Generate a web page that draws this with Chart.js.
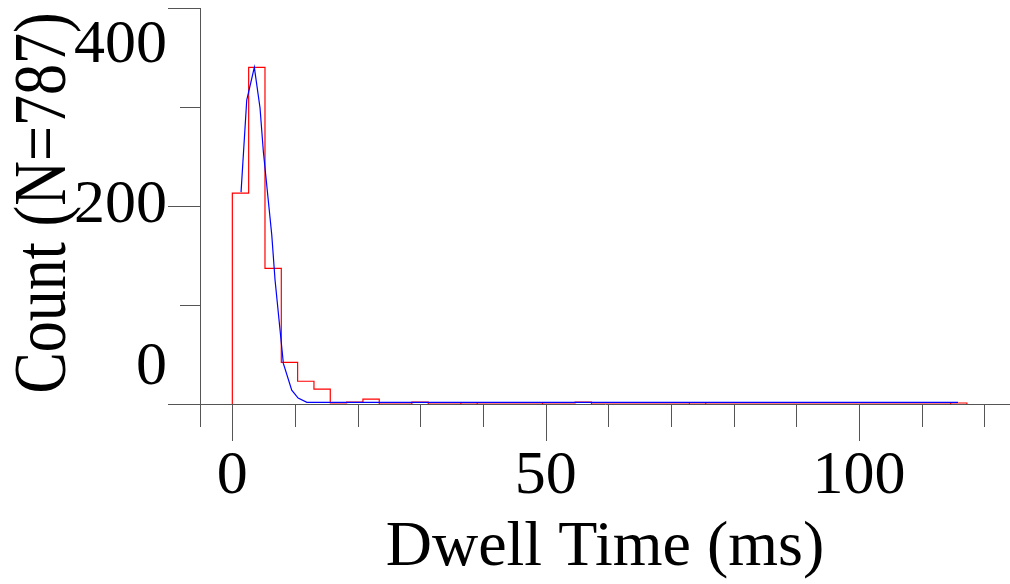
<!DOCTYPE html>
<html>
<head>
<meta charset="utf-8">
<script src="https://cdn.jsdelivr.net/npm/chart.js@4"></script>
<style>
  body { margin: 0; background: #fff; }
  #wrap { width: 1010px; height: 584px; }
</style>
</head>
<body>
<div id="wrap"><canvas id="dwellCanvas"></canvas></div>
<script>
// histogram of dwell times, 45 bins
const binWidth = 2.605;
const binCounts = [
  213, 340, 137, 42, 23, 15, 1, 2, 5, 0,
  0, 2, 0, 0, 1, 0, 0, 0, 0, 1,
  1, 2, 0, 0, 0, 0, 0, 0, 1, 0,
  0, 0, 0, 0, 0, 0, 0, 0, 0, 0,
  0, 0, 0, 0, 1,
];

// fitted curve (blue)
const fitX = [1.39, 2.30, 3.51, 4.42, 4.95, 6.29, 6.82, 7.61, 8.14, 9.48, 10.5, 11.9, 115.8];
const fitY = [214, 307, 340, 299, 255, 171, 125, 75, 41, 14, 6, 1.7, 1.7];

const xTickValues = [0, 10, 20, 30, 40, 50, 60, 70, 80, 90, 100, 110, 120];
const xLabelValues = [0, 50, 100];
const yTickValues = [0, 100, 200, 300, 400];
const yLabelValues = [0, 200, 400];

const serif = "'Liberation Serif', 'DejaVu Serif', serif";
const axisColor = "#555";

// step outline of the histogram
let histPoints = [{ x: 0, y: 0 }];
binCounts.forEach((c, i) => histPoints.push({ x: i * binWidth, y: c }));
histPoints.push({ x: binCounts.length * binWidth, y: 0 });

let fitPoints = fitX.map((x, i) => ({ x: x, y: fitY[i] }));

// tick marks, y labels and the stretched y title
const axisMarks = {
  id: "axisMarks",
  afterDraw(chart) {
    const { ctx, chartArea: a, scales } = chart;
    const x = scales.x, y = scales.y;
    ctx.save();
    ctx.strokeStyle = axisColor;
    ctx.lineWidth = 1;
    ctx.beginPath();
    // y axis runs a bit below the x axis
    ctx.moveTo(Math.round(a.left) + 0.5, a.bottom);
    ctx.lineTo(Math.round(a.left) + 0.5, a.bottom + 23);
    x.ticks.forEach((t) => {
      const px = Math.round(x.getPixelForValue(t.value)) + 0.5;
      const len = xLabelValues.includes(t.value) ? 37 : 23;
      ctx.moveTo(px, a.bottom);
      ctx.lineTo(px, a.bottom + len);
    });
    y.ticks.forEach((t) => {
      const py = Math.round(y.getPixelForValue(t.value)) + 0.5;
      const len = yLabelValues.includes(t.value) ? 32 : 20;
      ctx.moveTo(a.left - len, py);
      ctx.lineTo(a.left, py);
    });
    ctx.stroke();

    ctx.fillStyle = "#000";
    ctx.font = "62px " + serif;
    ctx.textAlign = "right";
    ctx.textBaseline = "middle";
    yLabelValues.forEach((v) => {
      let py = y.getPixelForValue(v);
      py = Math.min(Math.max(py, a.top + 38), a.bottom - 36);
      ctx.fillText(String(v), a.left - 33, py);
    });

    ctx.translate(65, (a.top + a.bottom) / 2 - 3);
    ctx.rotate(-Math.PI / 2);
    ctx.scale(1, 1.2);
    ctx.textAlign = "center";
    ctx.textBaseline = "alphabetic";
    ctx.fillText("Count (N=787)", 0, 0);
    ctx.restore();
  },
};

const ctx = document.querySelector("#dwellCanvas");

new Chart(ctx, {
  type: "line",
  data: {
    datasets: [
      {
        label: "fit",
        data: fitPoints,
        borderColor: "rgb(0 0 255)",
        borderWidth: 1.2,
        pointRadius: 0,
        tension: 0,
      },
      {
        label: "histogram",
        data: histPoints,
        borderColor: "rgb(255 0 0)",
        borderWidth: 1.2,
        pointRadius: 0,
        stepped: "before",
      },
    ],
  },
  options: {
    responsive: true,
    maintainAspectRatio: false,
    animation: false,
    layout: { padding: { top: 8, left: 0, right: 0, bottom: 0 } },
    plugins: {
      legend: { display: false },
      tooltip: { enabled: false },
    },
    scales: {
      x: {
        type: "linear",
        min: -5.16,
        max: 124.1,
        grid: { drawOnChartArea: false, drawTicks: false },
        border: { color: axisColor, width: 1 },
        afterBuildTicks: (s) => {
          s.ticks = xTickValues.map((v) => ({ value: v }));
        },
        ticks: {
          padding: 42,
          maxRotation: 0,
          autoSkip: false,
          color: "#000",
          font: { family: serif, size: 62, lineHeight: 1 },
          callback: (v) => (xLabelValues.includes(v) ? String(v) : ""),
        },
        title: {
          display: true,
          text: "Dwell Time (ms)",
          color: "#000",
          font: { family: serif, size: 64, lineHeight: 1 },
          padding: { top: 0, bottom: 4 },
        },
        afterFit: (s) => {
          s.height = 180;
          s.paddingLeft = 0;
          s.paddingRight = 0;
        },
      },
      y: {
        type: "linear",
        min: 0,
        max: 400,
        grid: { drawOnChartArea: false, drawTicks: false },
        border: { color: axisColor, width: 1 },
        afterBuildTicks: (s) => {
          s.ticks = yTickValues.map((v) => ({ value: v }));
        },
        ticks: { display: false },
        afterFit: (s) => {
          s.width = 200;
          s.paddingTop = 0;
          s.paddingBottom = 0;
        },
      },
    },
  },
  plugins: [axisMarks],
});
</script>
</body>
</html>
